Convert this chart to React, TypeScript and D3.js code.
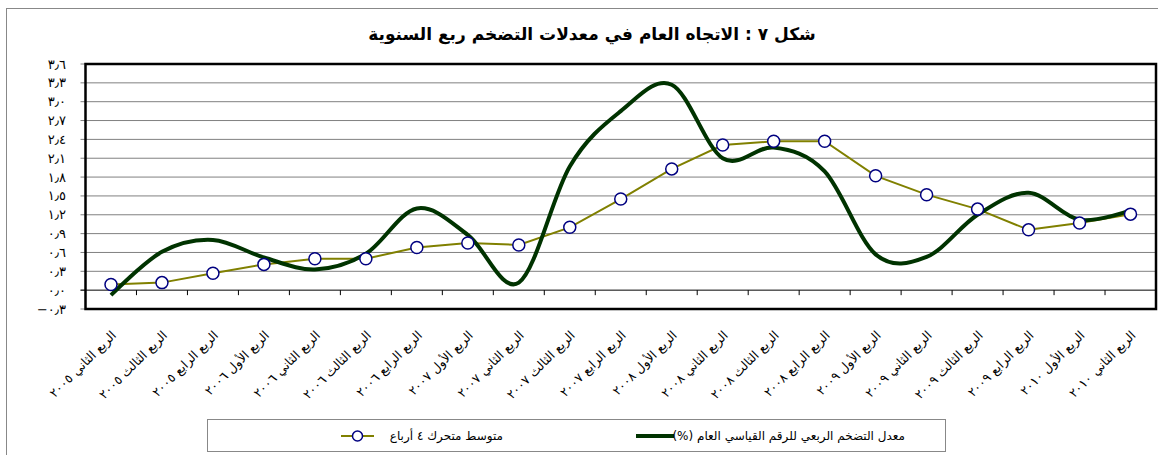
import * as d3 from 'd3';

const quarters = [
  'الربع الثاني ٢٠٠٥',
  'الربع الثالث ٢٠٠٥',
  'الربع الرابع ٢٠٠٥',
  'الربع الأول ٢٠٠٦',
  'الربع الثاني ٢٠٠٦',
  'الربع الثالث ٢٠٠٦',
  'الربع الرابع ٢٠٠٦',
  'الربع الأول ٢٠٠٧',
  'الربع الثاني ٢٠٠٧',
  'الربع الثالث ٢٠٠٧',
  'الربع الرابع ٢٠٠٧',
  'الربع الأول ٢٠٠٨',
  'الربع الثاني ٢٠٠٨',
  'الربع الثالث ٢٠٠٨',
  'الربع الرابع ٢٠٠٨',
  'الربع الأول ٢٠٠٩',
  'الربع الثاني ٢٠٠٩',
  'الربع الثالث ٢٠٠٩',
  'الربع الرابع ٢٠٠٩',
  'الربع الأول ٢٠١٠',
  'الربع الثاني ٢٠١٠',
];

// quarterly inflation of the general index (%)
const inflation = [
  -0.08, 0.61, 0.8, 0.52, 0.33, 0.58, 1.3, 0.88, 0.12, 1.97, 2.85, 3.27, 2.1,
  2.27, 1.89, 0.57, 0.53, 1.2, 1.55, 1.12, 1.27,
];

// 4-quarter moving average
const movingAvg = [
  0.09, 0.12, 0.27, 0.41, 0.5, 0.5, 0.68, 0.75, 0.72, 1.0, 1.45, 1.93, 2.31,
  2.37, 2.37, 1.82, 1.52, 1.29, 0.96, 1.07, 1.21,
];

const yTicks = [-0.3, 0, 0.3, 0.6, 0.9, 1.2, 1.5, 1.8, 2.1, 2.4, 2.7, 3.0, 3.3, 3.6];

const title = 'شكل ٧ : الاتجاه العام في معدلات التضخم ربع السنوية';
const legendMain = 'معدل التضخم الربعي للرقم القياسي العام (%)';
const legendAvg = 'متوسط متحرك ٤ أرباع';

const W = 1158;
const H = 455;
const plot = { left: 85.5, right: 1156, top: 64, bottom: 309 };
const arabicFont = "'DejaVu Sans', sans-serif";

const toArabicDigits = (s: string) =>
  s.replace(/[0-9]/g, (d) => '٠١٢٣٤٥٦٧٨٩'[+d]).replace('.', '٫');

export default function App() {
  const x = d3
    .scaleBand()
    .domain(quarters)
    .range([plot.left, plot.right])
    .paddingInner(0)
    .paddingOuter(0);
  const y = d3.scaleLinear().domain([-0.3, 3.6]).range([plot.bottom, plot.top]);
  const cx = (i: number) => (x(quarters[i]) as number) + x.bandwidth() / 2;

  const smoothLine = d3
    .line<number>()
    .x((_, i) => cx(i))
    .y((d) => y(d))
    .curve(d3.curveCardinal.tension(0));
  const straightLine = d3
    .line<number>()
    .x((_, i) => cx(i))
    .y((d) => y(d));

  return (
    <svg
      width={W}
      height={H}
      style={{ position: 'absolute', left: 0, top: 0, background: '#fff' }}
    >
      <rect x={6.5} y={8.5} width={1200} height={500} fill="#fff" stroke="#888" />

      <text
        x={592}
        y={40}
        textAnchor="middle"
        fontFamily={arabicFont}
        fontWeight="bold"
        fontSize={17}
      >
        {title}
      </text>

      {/* gridlines + y ticks */}
      {yTicks.map((t) => (
        <g key={t}>
          {t > -0.3 && t < 3.6 && t !== 0 && (
            <line x1={plot.left} x2={plot.right} y1={y(t)} y2={y(t)} stroke="#808080" />
          )}
          <line x1={plot.left - 5} x2={plot.left} y1={y(t)} y2={y(t)} stroke="#808080" />
          <text
            x={66}
            y={y(t)}
            dy="0.35em"
            textAnchor="end"
            fontFamily={arabicFont}
            fontSize={13}
          >
            {toArabicDigits(d3.format('.1f')(t))}
          </text>
        </g>
      ))}

      {/* zero axis with category ticks */}
      <line x1={plot.left - 5} x2={plot.right} y1={y(0)} y2={y(0)} stroke="#000" />
      {quarters.slice(1).map((q) => (
        <line
          key={q}
          x1={x(q)}
          x2={x(q)}
          y1={y(0)}
          y2={y(0) + 5}
          stroke="#000"
        />
      ))}

      <rect
        x={plot.left}
        y={plot.top}
        width={plot.right - plot.left}
        height={plot.bottom - plot.top}
        fill="none"
        stroke="#000"
        strokeWidth={2.5}
      />

      <path d={straightLine(movingAvg) ?? ''} fill="none" stroke="#808000" strokeWidth={2} />
      <path d={smoothLine(inflation) ?? ''} fill="none" stroke="#003300" strokeWidth={4} />
      {movingAvg.map((v, i) => (
        <circle
          key={i}
          cx={cx(i)}
          cy={y(v)}
          r={6}
          fill="#fff"
          stroke="#000080"
          strokeWidth={1.5}
        />
      ))}

      {/* category labels */}
      {quarters.map((q, i) => (
        <text
          key={q}
          transform={`translate(${cx(i) + 6},${336}) rotate(-45)`}
          textAnchor="end"
          fontFamily={arabicFont}
          fontSize={12.5}
        >
          {q}
        </text>
      ))}

      {/* legend */}
      <rect x={207.5} y={419.5} width={738} height={32} fill="#fff" stroke="#888" />
      <line x1={341} x2={374} y1={436} y2={436} stroke="#808000" strokeWidth={2} />
      <circle cx={357.5} cy={436} r={5} fill="#fff" stroke="#000080" strokeWidth={1.5} />
      <text
        x={503}
        y={436}
        dy="0.35em"
        direction="rtl"
        textAnchor="start"
        fontFamily={arabicFont}
        fontSize={12}
      >
        {legendAvg}
      </text>
      <line x1={636} x2={674} y1={436} y2={436} stroke="#003300" strokeWidth={4} />
      <text
        x={905}
        y={436}
        dy="0.35em"
        direction="rtl"
        textAnchor="start"
        fontFamily={arabicFont}
        fontSize={12}
      >
        {legendMain}
      </text>
    </svg>
  );
}
